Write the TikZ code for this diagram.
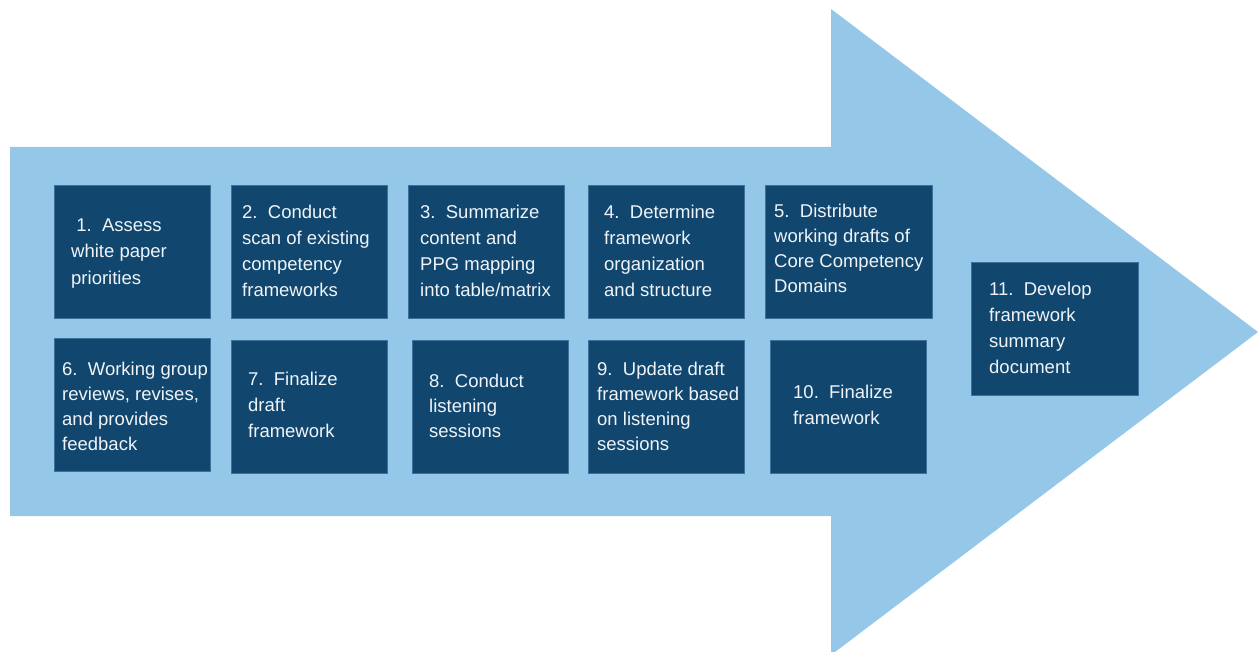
\documentclass[tikz,border=0pt]{standalone}
\usepackage{fontspec}
\setmainfont{Liberation Sans}
\definecolor{arrowblue}{HTML}{94C7E8}
\definecolor{boxblue}{HTML}{11476E}
\definecolor{boxedge}{HTML}{3D719A}
\definecolor{boxtext}{HTML}{F0F4F8}
\tikzset{
  stepbox/.style={draw=boxedge, line width=0.8pt, fill=boxblue, anchor=north west,
    inner sep=0pt, minimum width=#1},
  stepbox/.default=156pt,
  % labels are placed by the baseline of their last line
  steptext/.style={text=boxtext, anchor=base west, align=left, inner sep=0pt,
    font={\fontsize{18.5}{26}\selectfont}},
  tight/.style={font={\fontsize{18.5}{25}\selectfont}}
}
\begin{document}
\begin{tikzpicture}[x=1pt,y=-1pt]
\useasboundingbox (0,0) rectangle (1258,652);
% large process arrow
\fill[arrowblue] (10,147) -- (831,147) -- (831,9) -- (1258,332) -- (831,655)
  -- (831,516) -- (10,516) -- cycle;
% step boxes, first row
\node[stepbox, minimum height=133pt] (b1) at (54,185) {};
\node[stepbox, minimum height=133pt] (b2) at (231,185) {};
\node[stepbox, minimum height=133pt] (b3) at (408,185) {};
\node[stepbox, minimum height=133pt] (b4) at (588,185) {};
\node[stepbox=167pt, minimum height=133pt] (b5) at (765,185) {};
% step boxes, second row
\node[stepbox, minimum height=133pt] (b6) at (54,338) {};
\node[stepbox, minimum height=133pt] (b7) at (231,340) {};
\node[stepbox, minimum height=133pt] (b8) at (412,340) {};
\node[stepbox, minimum height=133pt] (b9) at (588,340) {};
\node[stepbox, minimum height=133pt] (b10) at (770,340) {};
% final step
\node[stepbox=167pt, minimum height=133pt] (b11) at (971,262) {};
% step labels
\node[steptext] (t1) at (71,284) {\ 1.\ \ Assess\\white paper\\priorities};
\node[steptext] (t2) at (242,297) {2.\ \ Conduct\\scan of existing\\competency\\frameworks};
\node[steptext] (t3) at (420,297) {3.\ \ Summarize\\content and\\PPG mapping\\into table/matrix};
\node[steptext] (t4) at (604,297) {4.\ \ Determine\\framework\\organization\\and structure};
\node[steptext, tight] (t5) at (774,293) {5.\ \ Distribute\\working drafts of\\Core Competency\\Domains};
\node[steptext, tight] (t6) at (62,450) {6.\ \ Working group\\reviews, revises,\\and provides\\feedback};
\node[steptext] (t7) at (248,437) {7.\ \ Finalize\\draft\\framework};
\node[steptext, tight] (t8) at (429,437) {8.\ \ Conduct\\listening\\sessions};
\node[steptext, tight] (t9) at (597,450) {9.\ \ Update draft\\framework based\\on listening\\sessions};
\node[steptext] (t10) at (793,424) {10.\ \ Finalize\\framework};
\node[steptext] (t11) at (989,373) {11.\ \ Develop\\framework\\summary\\document};
\end{tikzpicture}
\end{document}
